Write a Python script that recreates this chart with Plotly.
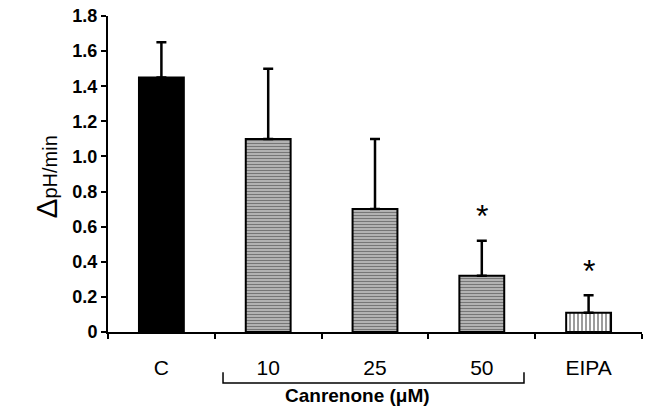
import plotly.graph_objects as go

categories = ["C", "10", "25", "50", "EIPA"]
values = [1.45, 1.10, 0.70, 0.32, 0.11]
errors = [0.20, 0.40, 0.40, 0.20, 0.10]
star_index = [3, 4]
star_y = [0.66, 0.35]
y_ticks = [0, 0.2, 0.4, 0.6, 0.8, 1.0, 1.2, 1.4, 1.6, 1.8]
y_ticktext = ["0", "0.2", "0.4", "0.6", "0.8", "1.0", "1.2", "1.4", "1.6", "1.8"]

fig = go.Figure()

wavy = dict(color="#9a9a9a", pattern=dict(shape="-", bgcolor="#b8b8b8", fgcolor="#333333",
                                           size=3, solidity=0.4, fillmode="overlay"))
styles = [
    dict(color="black"),
    wavy, wavy, wavy,
    dict(color="white", pattern=dict(shape="|", bgcolor="white", fgcolor="#222222",
                                     size=4, solidity=0.45, fillmode="overlay")),
]

for c, v, e, s in zip(categories, values, errors, styles):
    fig.add_trace(go.Bar(
        x=[c], y=[v], width=0.42,
        marker=dict(line=dict(color="black", width=2), **s),
        error_y=dict(type="data", array=[e], arrayminus=[0], symmetric=False,
                     color="black", thickness=2.5, width=5),
        showlegend=False,
    ))

for i, y in zip(star_index, star_y):
    fig.add_annotation(x=i, y=y, text="*", showarrow=False,
                       font=dict(family="Arial", size=32, color="black"))

# y-axis title
fig.add_annotation(xref="paper", yref="paper", x=-0.150, y=0.49,
                   text="<span style='font-size:30px'>Δ</span>pH/min",
                   textangle=-90, showarrow=False,
                   font=dict(family="Arial", size=20, color="black"))

# bracket
fig.add_shape(type="path", xref="x", yref="paper",
              path="M 0.577 -0.127 L 0.577 -0.161 L 3.395 -0.161 L 3.395 -0.127",
              line=dict(color="black", width=1.5))
fig.add_annotation(xref="x", yref="paper", x=1.84, y=-0.241,
                   text="<b>Canrenone (μM)</b>", showarrow=False,
                   font=dict(family="Arial", size=19, color="black"))

fig.update_layout(
    width=647, height=419,
    margin=dict(l=108, r=5, t=16, b=87),
    plot_bgcolor="white", paper_bgcolor="white",
    font=dict(family="Arial", color="black"),
)
fig.update_xaxes(
    type="category", categoryorder="array", categoryarray=categories,
    range=[-0.5, 4.5], showline=True, linecolor="black", linewidth=2,
    ticks="outside", tickson="boundaries", ticklen=5, tickwidth=2, tickcolor="black",
    tickfont=dict(family="Arial", size=21, color="black"), ticklabelstandoff=16,
    showgrid=False, zeroline=False,
)
fig.update_yaxes(
    range=[0, 1.8], tickvals=y_ticks, ticktext=y_ticktext,
    showline=True, linecolor="black", linewidth=2,
    ticks="outside", ticklen=5, tickwidth=2, tickcolor="black",
    tickfont=dict(family="Arial", size=18, color="black", weight="bold"),
    showgrid=False, zeroline=False,
)

fig.write_html("out.html")
